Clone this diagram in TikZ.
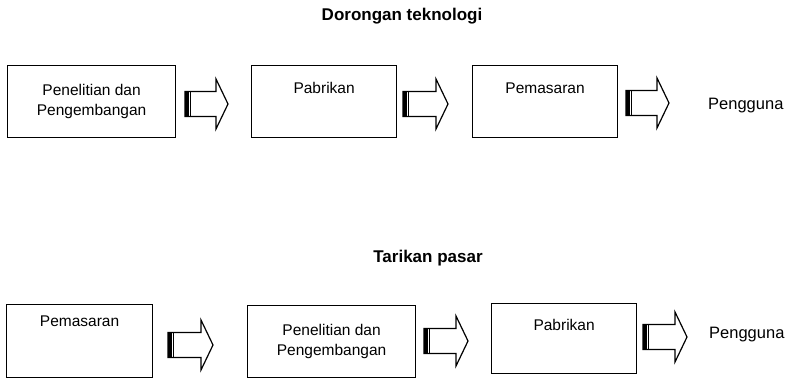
\documentclass[tikz,border=0pt]{standalone}
\usepackage{fontspec}
\setmainfont{Liberation Sans}
\usetikzlibrary{positioning}
\definecolor{diagink}{HTML}{000000}

\begin{document}
\begin{tikzpicture}[x=1pt,y=-1pt,
    blok/.style={draw=diagink,line width=1.2pt,inner sep=0pt,anchor=north west,
      align=center,font=\fontsize{15.5}{20}\selectfont},
    judul/.style={anchor=base,text=diagink,font=\fontsize{17}{19}\selectfont\bfseries},
    ujung/.style={anchor=base west,inner sep=0pt,text=diagink,
      font=\fontsize{16.5}{18}\selectfont}]
    \useasboundingbox (0,0) rectangle (790,379);
    % dorongan teknologi
    \node[judul] (jd1) at (402,21) {Dorongan teknologi};
    \node[blok,minimum width=168pt,minimum height=72pt] (rd1) at (7,65)
      {Penelitian dan\\Pengembangan};
    \node[blok,minimum width=145pt,text height=28pt,text depth=44pt] (rd2) at (251,65)
      {Pabrikan};
    \node[blok,minimum width=145pt,text height=28pt,text depth=44pt] (rd3) at (472,65)
      {Pemasaran};
    \node[ujung] (pg1) at (708,110) {Pengguna};
    % tarikan pasar
    \node[judul] (jd2) at (428,263) {Tarikan pasar};
    \node[blok,minimum width=146pt,text height=22pt,text depth=51pt] (mp1) at (6,304)
      {Pemasaran};
    \node[blok,minimum width=168pt,minimum height=72pt] (mp2) at (247,305)
      {Penelitian dan\\Pengembangan};
    \node[blok,minimum width=145pt,text height=27pt,text depth=43pt] (mp3) at (491,303)
      {Pabrikan};
    \node[ujung] (pg2) at (709,338) {Pengguna};
    % panah blok
    \foreach \a/\b/\c in {185/228/104,403/448/104,626/669/103,
                          168/213/345,424/468/341,643/687/337}{
      \draw[diagink,line width=1.2pt,line join=miter]
        (\a,\c-12.5) -- (\b-12,\c-12.5) -- (\b-12,\c-25) -- (\b,\c)
        -- (\b-12,\c+25) -- (\b-12,\c+12.5) -- (\a,\c+12.5) -- cycle;
      \fill[diagink] (\a,\c-12.5) rectangle (\a+3.5,\c+12.5);
      \draw[diagink,line width=.8pt] (\a+5,\c-12.5) -- (\a+5,\c+12.5);
    }
\end{tikzpicture}
\end{document}
